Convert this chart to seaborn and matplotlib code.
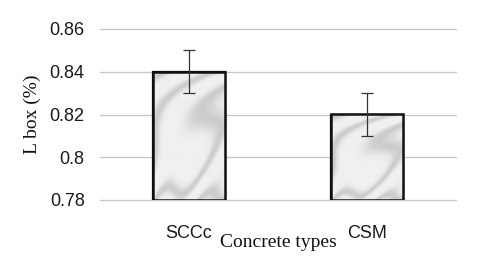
import numpy as np
import pandas as pd
import matplotlib
matplotlib.use("Agg")
import matplotlib.pyplot as plt
import seaborn as sns

# values
concrete_types = ["SCCc", "CSM"]
l_box = [0.84, 0.82]
l_box_err = [0.01, 0.01]
y_ticks = [0.78, 0.80, 0.82, 0.84, 0.86]
y_tick_labels = ["0.78", "0.8", "0.82", "0.84", "0.86"]

sns.set_theme(style="white")
plt.rcParams["font.family"] = ["Liberation Sans", "DejaVu Sans"]

df = pd.DataFrame({"type": concrete_types, "lbox": l_box})

fig = plt.figure(figsize=(4.8, 2.7), dpi=100)
ax = fig.add_axes([100 / 480, 1 - 200 / 270, 356 / 480, 171 / 270])

sns.barplot(data=df, x="type", y="lbox", ax=ax, width=0.4,
            color="#e4e5e7", edgecolor="black", linewidth=1.6,
            errorbar=None, zorder=3)

# soft marble-like shading clipped to each bar
yy, xx = np.mgrid[0:1:200j, 0:1:120j]
marble = np.sin(9 * xx + 14 * yy + 2.5 * np.sin(6 * yy) + 1.8 * np.sin(11 * xx * yy))
marble = 0.5 + 0.5 * marble
marble = 0.94 - 0.14 * marble ** 3
for bar in ax.patches:
    x0, y0 = bar.get_x(), 0.78
    x1, y1 = x0 + bar.get_width(), bar.get_height()
    im = ax.imshow(marble, cmap="gray", vmin=0, vmax=1, aspect="auto",
                   extent=(x0, x1, y0, y1), zorder=3.5, interpolation="bilinear")
    im.set_clip_path(bar)
    ax.add_patch(plt.Rectangle((x0, y0), x1 - x0, y1 - y0, fill=False,
                               edgecolor="#111111", linewidth=1.8, zorder=4))

xpos = np.arange(len(concrete_types))
ax.errorbar(xpos, l_box, yerr=l_box_err, fmt="none", ecolor="#333333",
            elinewidth=0.9, capsize=4, capthick=0.9, zorder=5)

ax.set_ylim(0.78, 0.86)
ax.set_xlim(-0.5, 1.5)
ax.set_yticks(y_ticks)
ax.set_yticklabels(y_tick_labels)
ax.yaxis.grid(True, color="#c8c8c8", linewidth=1.0, zorder=0)
for gl in ax.get_ygridlines():
    gl.set_clip_on(False)
ax.set_axisbelow(True)
for s in ax.spines.values():
    s.set_visible(False)
ax.tick_params(axis="both", length=0, labelsize=13, colors="#1a1a1a")
ax.tick_params(axis="y", pad=11)
ax.tick_params(axis="x", pad=18)

ax.set_xlabel("Concrete types", family=["Liberation Serif", "DejaVu Serif"],
              fontsize=14, labelpad=-6, color="#111111")
ax.set_ylabel("L box (%)", family=["Liberation Serif", "DejaVu Serif"],
              fontsize=14, labelpad=6, color="#111111")

fig.savefig("out.png", dpi=100)
